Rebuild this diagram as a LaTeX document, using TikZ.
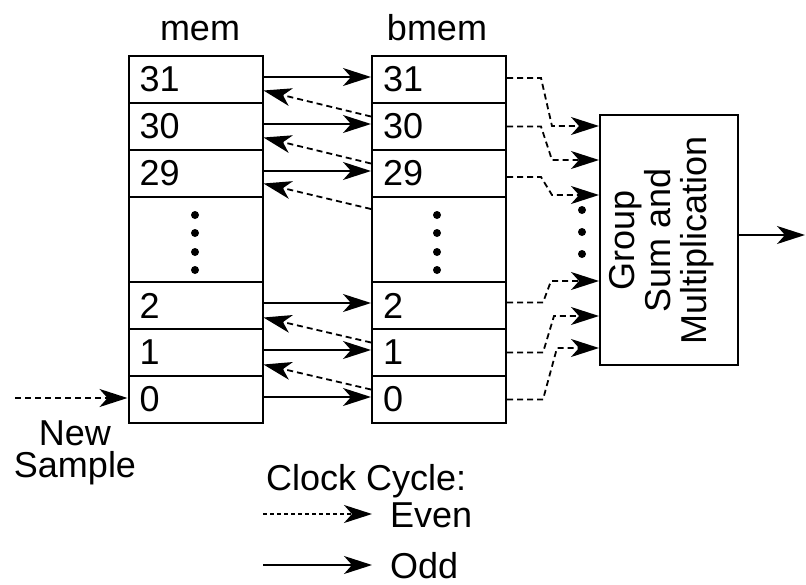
\documentclass[tikz,border=0pt]{standalone}
\usepackage{fontspec}
\setmainfont{Liberation Sans}
\usetikzlibrary{arrows.meta,calc}
\begin{document}
\begin{tikzpicture}[x=1pt,y=-1pt,
  every node/.style={font=\fontsize{36}{36}\selectfont},
  cell/.style={draw,line width=2pt,minimum width=134pt,text width=112pt,inner xsep=11pt,inner ysep=0pt,align=left,minimum height=47pt},
  dotcell/.style={draw,line width=2pt,minimum width=134pt,minimum height=85pt,inner sep=0pt},
  box/.style={draw,line width=2pt,minimum width=138pt,minimum height=250pt,inner sep=0pt},
  arrowtip/.style={-{Stealth[length=28pt,width=18pt,inset=8pt]}},
  odd/.style={arrowtip,line width=1.8pt},
  even/.style={arrowtip,line width=1.8pt,dash pattern=on 6pt off 4pt},
  dotm/.style={fill=black}
]
\useasboundingbox (0,0) rectangle (806,584);
% mem column
\node[cell] (m31) at (195.5,79.5) {31};
\node[cell] (m30) at (195.5,126.5) {30};
\node[cell] (m29) at (195.5,173.5) {29};
\node[dotcell] (md) at (195.5,239.5) {};
\node[cell] (m2) at (195.5,305.5) {2};
\node[cell] (m1) at (195.5,352.5) {1};
\node[cell] (m0) at (195.5,399.5) {0};
% bmem column
\node[cell] (b31) at (439,79.5) {31};
\node[cell] (b30) at (439,126.5) {30};
\node[cell] (b29) at (439,173.5) {29};
\node[dotcell] (bd) at (439,239.5) {};
\node[cell] (b2) at (439,305.5) {2};
\node[cell] (b1) at (439,352.5) {1};
\node[cell] (b0) at (439,399.5) {0};
% titles
\node[anchor=base] (tmem) at (200,40) {mem};
\node[anchor=base] (tbmem) at (437,40) {bmem};
% dots
\foreach \yy in {215,233,252,270}{
  \fill[dotm] (195,\yy) circle[radius=4pt];
  \fill[dotm] (437,\yy) circle[radius=4pt];
}
\foreach \yy in {210,232,254}{
  \fill[dotm] (582,\yy) circle[radius=4pt];
}
% group box
\node[box] (grp) at (669,240) {};
\node[rotate=90,align=center] (gtxt) at (662,240) {Group\\Sum and\\Multiplication};
\coordinate (out) at (805,235);
\draw[odd] ([yshift=5pt]grp.east) -- (out);
% odd transfers mem -> bmem
\foreach \r in {31,30,29,2,1,0}{
  \draw[odd] ([yshift=2.5pt]m\r.east) -- ([yshift=2.5pt]b\r.west);
}
% even transfers bmem -> mem
\draw[even] ([yshift=10pt]b30.west) -- ([yshift=-11pt]m31.east);
\draw[even] ([yshift=10pt]b29.west) -- ([yshift=-11pt]m30.east);
\draw[even] ([yshift=-13pt]bd.north west) -- ([yshift=-10pt]m29.east);
\draw[even] ([yshift=10pt]b1.west) -- ([yshift=-12pt]m2.east);
\draw[even] ([yshift=10pt]b0.west) -- ([yshift=-12pt]m1.east);
% bmem -> group
\draw[even] ([yshift=1.5pt]b31.east) -- ++(34,0) -- ($(grp.north west)+(-47,12)$) -- ($(grp.north west)+(0,12)$);
\draw[even] (b30.east) -- ++(34,0) -- ($(grp.north west)+(-47,46)$) -- ($(grp.north west)+(0,46)$);
\draw[even] ([yshift=-3.5pt]b29.east) -- ++(34,0) -- ($(grp.north west)+(-47,81)$) -- ($(grp.north west)+(0,81)$);
\draw[even] ([yshift=3pt]b2.east) -- ++(36,0) -- ($(grp.north west)+(-48,167)$) -- ($(grp.north west)+(0,167)$);
\draw[even] (b1.east) -- ++(36,0) -- ($(grp.north west)+(-45,202)$) -- ($(grp.north west)+(0,202)$);
\draw[even] (b0.east) -- ++(36,0) -- ($(grp.north west)+(-42,234)$) -- ($(grp.north west)+(0,234)$);
% new sample
\coordinate (nsin) at (15,398);
\draw[even] (nsin) -- ([yshift=1.5pt]m0.west);
\node[align=center,anchor=base,font=\fontsize{36}{32}\selectfont] (newsample) at (75,477) {New\\Sample};
% legend
\node[anchor=base west,inner sep=0pt] (clk) at (266,490) {Clock Cycle:};
\coordinate (le1) at (263,514);
\coordinate (le2) at (372,514);
\coordinate (lo1) at (263,565);
\coordinate (lo2) at (372,565);
\draw[even,dash pattern=on 4pt off 3pt] (le1) -- (le2);
\draw[odd] (lo1) -- (lo2);
\node[anchor=base west,inner sep=0pt] (even) at (390,527) {Even};
\node[anchor=base west,inner sep=0pt] (oddt) at (390,578) {Odd};
\end{tikzpicture}
\end{document}
